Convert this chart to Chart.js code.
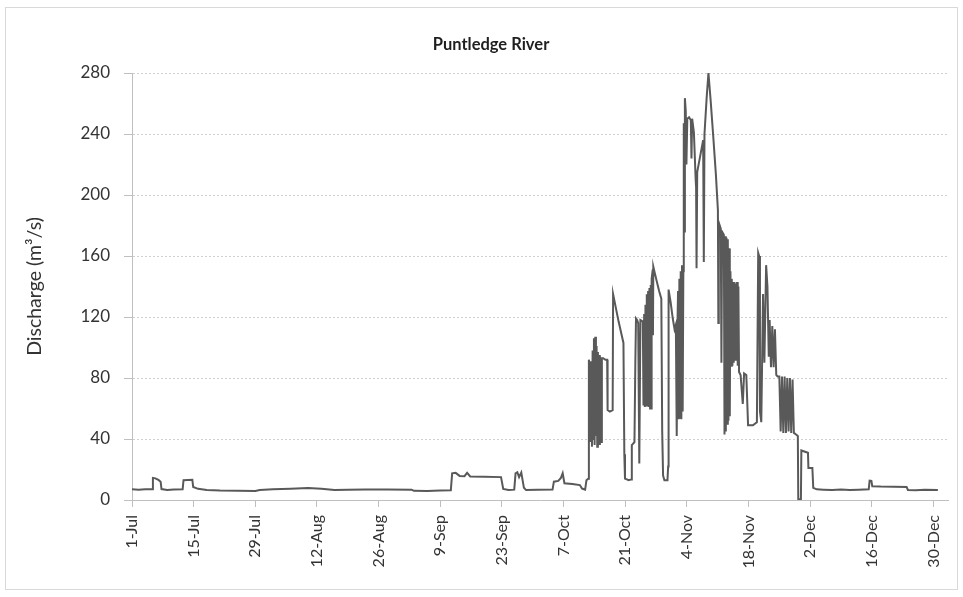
<!DOCTYPE html>
<html>
<head>
<meta charset="utf-8">
<script src="https://cdn.jsdelivr.net/npm/chart.js@4"></script>
<style>
  html, body { margin: 0; padding: 0; background: #fff; }
  canvas { display: block; }
</style>
</head>
<body>
<canvas id="chart" width="963" height="597"></canvas>
<script>
// Date labels on the x axis, one every two weeks starting 1 July
const tickLabels = ['1-Jul', '15-Jul', '29-Jul', '12-Aug', '26-Aug', '9-Sep', '23-Sep',
  '7-Oct', '21-Oct', '4-Nov', '18-Nov', '2-Dec', '16-Dec', '30-Dec'];
const tickIntervalDays = 14;

const chartTitle = 'Puntledge River';
const yAxisTitle = 'Discharge (m³/s)';

// Days since 1 July for each reading
const day = [
  0, 1.5, 3, 4.6, 4.75, 5.3, 6.0, 6.5, 6.7, 8, 9.5, 11.5, 11.7, 13.7, 13.9, 15, 17, 20, 24, 28,
  29, 32, 36, 40, 43, 46, 49, 53, 58, 63.5, 64, 67, 70, 72.4, 72.7, 73.5, 74.4, 75.5, 76.1, 76.8,
  80, 83.8, 84.3, 85.5, 86.8, 87.1, 87.5, 87.9, 88.4, 89.0, 89.5, 92, 95.5, 95.8, 96.8, 97.4, 97.8, 98.2, 100, 101.7,
  102.2, 102.9, 103.2, 103.6,
  103.75, 104.0, 104.15, 104.3, 104.45, 104.6, 104.75, 104.9, 105.05, 105.2, 105.35, 105.5, 105.65, 105.8, 105.95,
  106.1, 106.25, 106.4, 106.55, 106.7, 107.0, 107.5, 107.9, 108.0, 108.5, 109.15, 109.25, 110.5, 111.6, 111.8, 111.95,
  112.8, 113.4, 113.5, 114.1, 114.3, 114.45, 114.7, 114.95, 115.2, 115.35, 115.45, 116.0, 116.15, 116.3, 116.45,
  116.6, 116.75, 116.9, 117.05, 117.2, 117.35, 117.5, 117.65, 117.8, 117.9, 118.0, 118.25, 118.3, 118.38, 118.7,
  119.2, 119.7, 120.2, 120.4, 120.6, 120.9, 121.6, 121.75, 121.85, 122.3, 122.8, 123.2, 123.5, 123.7, 123.85,
  124.0, 124.15, 124.3, 124.45, 124.6, 124.75, 124.9, 125.05, 125.2, 125.3, 125.4, 125.55, 125.75, 125.9, 126.1,
  126.5, 126.9, 127.05, 127.2, 127.6, 128.0, 128.1, 128.2, 128.35, 129.7, 129.85, 130.0, 130.5, 130.9, 131.4,
  132.0, 132.6, 133.05, 133.15, 133.25, 133.7, 133.85, 134.0, 134.4, 134.55, 134.7, 134.85, 135.0, 135.15, 135.3,
  135.45, 135.6, 135.75, 135.9, 136.05, 136.2, 136.35, 136.5, 136.65, 136.8, 136.95, 137.1, 137.25, 137.4, 137.55,
  137.7, 137.85, 138.2, 138.7, 139.0, 139.5, 139.9, 141.0, 141.9,
  142.2, 142.4, 142.6, 142.9, 143.3, 143.6, 144.0, 144.3, 144.6, 144.8, 145.1, 145.4, 145.7, 146.0, 146.3, 146.6,
  147.0, 147.3, 147.6, 147.9, 148.2, 148.5, 148.8, 149.1, 149.4, 149.7, 150.0, 150.3, 150.8, 151.2, 151.3, 151.9,
  152.0, 153.5, 153.6, 154.5, 154.7, 155.5,
  157, 159, 161, 163, 165, 167.3, 167.5, 167.9, 168.1, 170, 173, 175.9, 176.2, 178, 180, 183
];

// Discharge (m³/s) for each reading
const flow = [
  7.0, 6.8, 7.0, 7.1, 14.5, 14.2, 13.2, 12, 7.2, 6.6, 6.9, 7.0, 13.0, 13.2, 8.5, 7.3, 6.6, 6.2, 6.0, 5.9,
  6.6, 7.0, 7.4, 7.8, 7.3, 6.6, 6.7, 6.9, 6.9, 6.8, 6.0, 5.9, 6.3, 6.4, 17.5, 17.8, 15.8, 15.6, 17.8, 15.4,
  15.2, 15.0, 7.2, 6.5, 6.8, 17.5, 18.2, 15.0, 18.0, 8.0, 6.5, 6.7, 6.8, 12.0, 12.5, 14.5, 17.5, 11.0, 10.5, 9.8,
  7.5, 6.8, 13.0, 14.0,
  92, 88, 38, 91, 35, 98, 40, 106, 36, 107, 42, 101, 35, 97, 45,
  95, 36, 90, 38, 93, 93, 92, 92, 59, 58, 59, 135, 117, 103, 30, 14,
  13, 13.5, 36, 38, 90, 119, 118, 116, 24, 24, 118, 117, 62, 122, 61,
  128, 62, 135, 62, 137, 61, 139, 60, 141, 60, 145, 151, 108, 153, 149,
  143, 137, 132, 45, 16, 13, 13, 22, 138, 130, 119, 112, 115, 42, 112,
  137, 53, 145, 54, 150, 53, 154, 58, 150, 247, 176, 263.5, 255, 220, 250,
  251, 249, 224, 250, 241, 210, 205, 152, 215, 236, 156, 240, 264, 280, 262,
  238, 213, 190, 116, 182, 178, 90, 176, 174, 43, 173, 45, 172, 50, 171,
  52, 165, 55, 150, 88, 145, 88, 143, 90, 143, 92, 142, 117, 143, 88,
  140, 84, 82, 63, 83, 82, 49, 49, 51,
  162, 160, 58, 51, 135, 90, 154, 140, 94, 118, 87, 114, 87, 112, 82, 81,
  81, 45, 81, 44, 81, 44, 80, 45, 80, 44, 79, 44, 43, 42, 0.5, 0.5,
  32.5, 31, 21, 21, 8, 7,
  6.8, 6.5, 6.9, 6.6, 6.8, 7.0, 12.7, 12.5, 9.0, 8.8, 8.7, 8.6, 6.6, 6.4, 6.7, 6.6
];

const points = day.map((d, i) => ({ x: d, y: flow[i] }));

// White background, thin outer frame, and the bold heading above the plot
const framePlugin = {
  id: 'frame',
  beforeDraw(chart) {
    const ctx = chart.ctx;
    ctx.save();
    ctx.fillStyle = '#ffffff';
    ctx.fillRect(0, 0, chart.width, chart.height);
    ctx.strokeStyle = '#d9d9d9';
    ctx.lineWidth = 1;
    ctx.strokeRect(5.5, 7.5, 952, 582);
    ctx.fillStyle = '#1f1f1f';
    ctx.font = 'bold 16.5px Lato, sans-serif';
    ctx.textAlign = 'center';
    ctx.textBaseline = 'middle';
    ctx.fillText(chartTitle, 491, 45);
    ctx.restore();
  }
};

const textColor = '#333333';
const axisColor = '#bfbfbf';

new Chart(document.getElementById('chart'), {
  type: 'line',
  data: {
    datasets: [{
      label: chartTitle,
      data: points,
      borderColor: '#595959',
      borderWidth: 2,
      pointRadius: 0,
      tension: 0,
      fill: false
    }]
  },
  options: {
    responsive: false,
    animation: false,
    devicePixelRatio: 1,
    layout: { padding: { left: 0, right: 15, top: 73, bottom: 0 } },
    plugins: {
      legend: { display: false },
      tooltip: { enabled: false },
      title: { display: false }
    },
    scales: {
      x: {
        type: 'linear',
        min: 0,
        max: 185.3,
        afterBuildTicks(scale) {
          scale.ticks = tickLabels.map((_, i) => ({ value: i * tickIntervalDays }));
        },
        afterFit(scale) { scale.height = 97; },
        ticks: {
          autoSkip: false,
          minRotation: 90,
          maxRotation: 90,
          padding: 8,
          color: textColor,
          font: { family: 'Lato', size: 16 },
          callback: (value, index) => tickLabels[index]
        },
        grid: {
          drawOnChartArea: false,
          drawTicks: true,
          tickLength: 7,
          tickColor: axisColor
        },
        border: { display: true, color: axisColor, width: 1 }
      },
      y: {
        min: 0,
        max: 280,
        afterFit(scale) { scale.width = 132; },
        ticks: {
          stepSize: 40,
          padding: 14,
          color: textColor,
          font: { family: 'Lato', size: 17 }
        },
        grid: {
          color: '#d0d0d0',
          lineWidth: 1,
          tickBorderDash: [],
          tickColor: axisColor,
          tickLength: 8,
          drawTicks: true
        },
        border: { display: true, color: axisColor, width: 1, dash: [2, 2] },
        title: {
          display: true,
          text: yAxisTitle,
          color: textColor,
          font: { family: 'Lato', size: 19.5, lineHeight: 1.2 },
          padding: { top: 23, bottom: 0 }
        }
      }
    }
  },
  plugins: [framePlugin]
});
</script>
</body>
</html>
